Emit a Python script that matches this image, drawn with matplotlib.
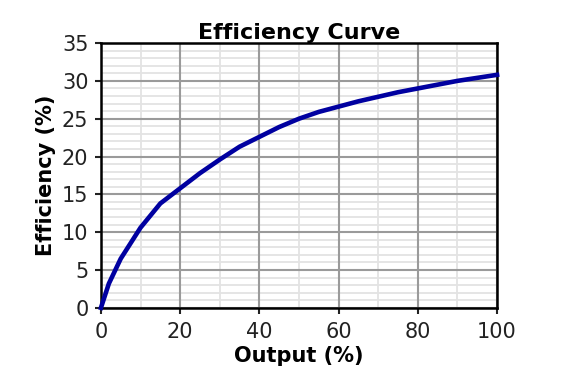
import matplotlib
matplotlib.use('Agg')
import matplotlib.pyplot as plt
import numpy as np
from matplotlib.ticker import MultipleLocator

# values
output_pct = [0, 2, 5, 10, 15, 20, 25, 30, 35, 40, 45, 50, 55, 60, 65, 70, 75, 80, 85, 90, 95, 100]
efficiency = [0, 3.2, 6.5, 10.6, 13.8, 15.8, 17.8, 19.6, 21.3, 22.6, 23.9, 25.0, 25.9, 26.6, 27.3, 27.9, 28.5, 29.0, 29.5, 30.0, 30.4, 30.8]

plt.rcParams['font.family'] = ['DejaVu Sans']

fig = plt.figure(figsize=(5.8, 3.81), dpi=100)
ax = fig.add_axes([0.174, 0.192, 0.683, 0.695])

ax.set_xlim(0, 100)
ax.set_ylim(0, 35)
ax.xaxis.set_major_locator(MultipleLocator(20))
ax.yaxis.set_major_locator(MultipleLocator(5))

# light minor grid first, underneath the major grid
for xv in np.arange(10, 100, 20):
    ax.axvline(xv, color='#e3e3e3', lw=1.3, zorder=0.5)
for yv in np.arange(1, 35, 1):
    if yv % 5:
        ax.axhline(yv, color='#e3e3e3', lw=1.3, zorder=0.5)

ax.grid(which='major', color='#9a9a9a', lw=1.5)
ax.set_axisbelow(True)

ax.plot(output_pct, efficiency, color='#0000a0', lw=3.3, zorder=3, clip_on=False)

for s in ax.spines.values():
    s.set_linewidth(1.8)
ax.tick_params(which='major', length=4, width=1.5, labelsize=15, colors='#222222', pad=5)
ax.tick_params(axis='x', pad=6)

ax.set_title('Efficiency Curve', fontsize=16, fontweight='bold', pad=3)
ax.set_xlabel('Output (%)', fontsize=15, fontweight='bold', labelpad=3)
ax.set_ylabel('Efficiency (%)', fontsize=15, fontweight='bold', labelpad=4)

fig.savefig('out.png', dpi=100)
